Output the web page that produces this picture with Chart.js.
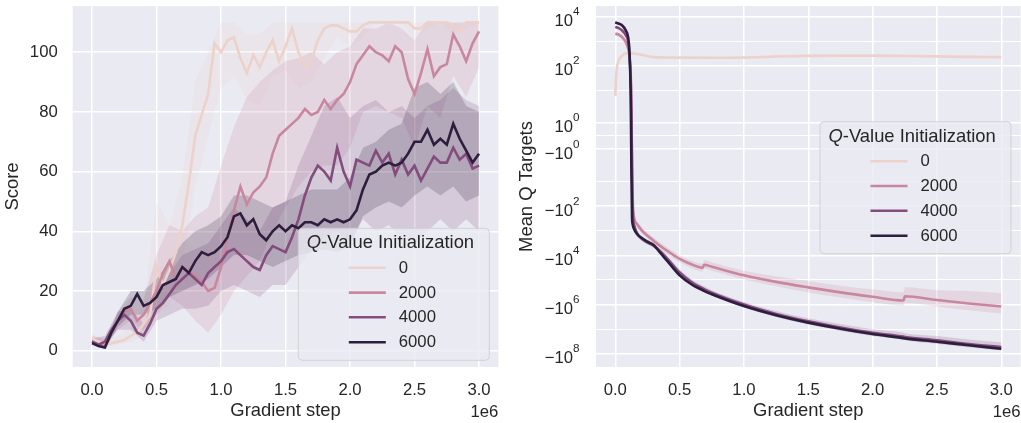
<!DOCTYPE html>
<html>
<head>
<meta charset="utf-8">
<script src="https://cdn.jsdelivr.net/npm/chart.js@4.4.1/dist/chart.umd.min.js"></script>
<style>
html, body { margin: 0; padding: 0; background: #fff; }
#wrap { position: relative; width: 1021px; height: 423px; }
.panel { position: absolute; top: 0; }
</style>
</head>
<body>
<div id="wrap">
  <canvas id="scoreChart" class="panel" width="510" height="423" style="left:0"></canvas>
  <canvas id="qChart" class="panel" width="511" height="423" style="left:510px"></canvas>
</div>
<script>
// ---- data (x in units of 1e6 gradient steps) ----
const LEVELS = ['0', '2000', '4000', '6000'];
const X_TICKS = [0, 0.5, 1, 1.5, 2, 2.5, 3];
const SCORE_TICKS = [0, 20, 40, 60, 80, 100];

const STEPS = [0,0.05,0.1,0.15,0.2,0.25,0.3,0.35,0.4,0.45,0.5,0.55,0.6,0.65,0.7,0.75,0.8,0.85,0.9,0.95,
  1,1.05,1.1,1.15,1.2,1.25,1.3,1.35,1.4,1.45,1.5,1.55,1.6,1.65,1.7,1.75,1.8,1.85,1.9,1.95,
  2,2.05,2.1,2.15,2.2,2.25,2.3,2.35,2.4,2.45,2.5,2.55,2.6,2.65,2.7,2.75,2.8,2.85,2.9,2.95,3];

const score0 = [4,3,2,2.5,3,3.5,5,6,9,12,28,22,27,33,42,56,72,79,86,103,
  100,104,105,98,93,99,95,100,104,97,102,108,100,95,97,104,108,109,109,108,
  107,107,109,110,110,110,110,110,110,110,108,108,110,110,110,110,109,107,110,110,110];
const score2000 = [3,2,1.5,6,10,13,14,10,12,16,20,26,30,24,28,27,25,23,20,21,
  28,38,47,55,49,53,55,58,66,72,74,76,78,81,79,80,84,81,84,86,
  90,96,99,102,100,99,97,102,100,91,86,93,101,92,95,96,106,102,97,103,107];
const score4000 = [3,2,3,7,10,12,10,6,5,9,14,16,19,22,24,26,24,22,26,28,
  30,33,34,32,30,28,27,32,35,34,33,38,44,52,58,62,60,57,68,60,
  55,64,63,62,67,63,66,59,64,59,62,57,61,65,63,63,68,64,66,61,62];
const score6000 = [2.5,1.5,1,6,10,14,15,19,15,16,18,22,23,24,28,26,30,33,32,33,
  35,38,45,46,42,44,39,37,40,42,40,42,41,43,43,42,44,43,44,43,
  44,47,54,59,60,62,63,62,63,66,70,70,74,69,71,69,76,71,67,63,66];

const BAND_STEPS = [0,0.1,0.2,0.3,0.4,0.5,0.6,0.7,0.8,0.9,1,1.1,1.2,1.3,1.4,1.5,1.6,1.7,1.8,1.9,
  2,2.1,2.2,2.3,2.4,2.5,2.6,2.7,2.8,2.9,3];
const scoreLo0 = [2,1,2,3,5,12,15,28,55,72,88,92,84,82,92,94,88,90,98,105,102,105,110,110,110,104,108,110,106,108,110];
const scoreHi0 = [6,3,5,8,15,50,42,58,90,100,110,110,106,106,110,110,110,110,110,110,110,110,110,110,110,110,110,110,110,110,110];
const scoreLo2000 = [2,0.5,7,10,7,12,18,15,10,6,12,20,25,30,40,48,55,60,62,62,68,80,82,80,78,68,82,78,92,85,95];
const scoreHi2000 = [5,4,13,18,17,32,42,40,45,48,62,75,85,90,94,97,98,100,96,100,102,108,108,110,108,104,110,110,110,110,110];
const scoreLo4000 = [2,2,7,7,3,10,12,14,14,15,20,22,20,18,22,22,28,34,38,40,36,44,40,42,38,36,40,44,40,44,40];
const scoreHi4000 = [4,5,13,14,9,20,26,32,34,36,42,48,44,40,48,50,62,72,82,85,78,82,84,80,82,78,82,84,88,84,82];
const scoreLo6000 = [2,0.5,8,12,12,14,18,20,22,24,28,32,32,30,28,30,32,33,34,33,35,45,48,50,48,52,55,52,55,50,52];
const scoreHi6000 = [4,2,13,20,20,24,30,36,40,42,45,52,52,50,48,50,52,54,54,54,58,68,70,74,76,88,90,86,90,82,80];

// mean Q targets
const Q_MAJOR = [1e4, 1e2, 1, -1, -1e2, -1e4, -1e6, -1e8];
const Q_MINOR = [1e3, 10, 0, -10, -1e3, -1e5, -1e7];

const Q0_STEPS = [0,0.005,0.01,0.023,0.05,0.09,0.14,0.2,0.3,0.4,0.5,0.75,1,1.25,1.5,1.75,2,2.25,2.5,2.75,3];
const q0 = [6,26,67,146,248,318,315,280,225,218,215,212,218,238,252,258,258,250,240,230,225];

const Q_STEPS = [0,0.02,0.05,0.08,0.1,0.11,0.12,0.125,0.13,0.135,0.14,0.15,0.17,0.2,0.25,0.3,0.35,0.4,
  0.5,0.6,0.68,0.69,0.75,1,1.25,1.5,1.75,2,2.24,2.25,2.5,2.75,3];
const q2000 = [2000,1900,1500,950,500,250,40,5,-3,-50,-180,-380,-550,-900,-1600,-2600,-4200,-6400,
  -1.4e4,-2.4e4,-3.2e4,-2.4e4,-2.9e4,-6.5e4,-1.2e5,-2.0e5,-3.2e5,-4.8e5,-6.8e5,-4.6e5,-6.5e5,-9e5,-1.2e6];
const q4000 = [3800,3500,2800,1800,950,300,20,1.5,-2.5,-100,-380,-700,-1300,-2000,-3000,-4200,-7000,-1.3e4,
  -5e4,-1.3e5,-2.2e5,-2.35e5,-3.3e5,-1.0e6,-2.4e6,-4.8e6,-8.5e6,-1.4e7,-2.0e7,-2.05e7,-2.8e7,-4e7,-5.3e7];
const q6000 = [5800,5300,4500,2800,1400,350,5,-2.6,-280,-550,-720,-950,-1400,-1900,-2800,-3900,-8000,-1.6e4,
  -6.5e4,-1.6e5,-2.6e5,-2.8e5,-3.8e5,-1.15e6,-2.7e6,-5.4e6,-9.5e6,-1.55e7,-2.3e7,-2.35e7,-3.2e7,-4.5e7,-6.2e7];
const qHi2000 = [2300,2200,1800,1200,650,350,80,12,0,-30,-120,-280,-420,-650,-1200,-1900,-3000,-4600,
  -1.0e4,-1.7e4,-2.2e4,-1.6e4,-1.9e4,-4.2e4,-7e4,-1.1e5,-1.7e5,-2.4e5,-3.2e5,-2.0e5,-2.6e5,-2.8e5,-3.5e5];
const qLo2000 = [1700,1600,1200,700,350,150,10,-1,-8,-90,-260,-500,-720,-1200,-2100,-3500,-5800,-9000,
  -1.9e4,-3.4e4,-4.5e4,-3.4e4,-4.2e4,-9.5e4,-1.8e5,-3.2e5,-5.2e5,-8e5,-1.1e6,-8.5e5,-1.2e6,-1.7e6,-2.3e6];
const qHi4000 = [4200,3900,3100,2000,1100,380,30,2,-1.5,-60,-250,-500,-1000,-1600,-2500,-3500,-5500,-1.0e4,
  -3.8e4,-1.0e5,-1.7e5,-1.8e5,-2.6e5,-7.8e5,-1.8e6,-3.6e6,-6.2e6,-1.0e7,-1.4e7,-1.45e7,-1.9e7,-2.6e7,-3.4e7];
const qLo4000 = [3400,3100,2500,1600,800,220,12,1,-3.5,-140,-500,-900,-1600,-2500,-3600,-5000,-9000,-1.7e4,
  -6.5e4,-1.7e5,-2.8e5,-3.0e5,-4.2e5,-1.3e6,-3.2e6,-6.4e6,-1.15e7,-1.9e7,-2.7e7,-2.8e7,-3.9e7,-5.5e7,-7.2e7];
const qHi6000 = [6300,5800,5000,3200,1700,450,8,-1.8,-200,-420,-580,-800,-1200,-1650,-2400,-3400,-7000,-1.4e4,
  -5.6e4,-1.4e5,-2.3e5,-2.4e5,-3.3e5,-1.0e6,-2.35e6,-4.7e6,-8.2e6,-1.35e7,-2.0e7,-2.05e7,-2.8e7,-3.9e7,-5.3e7];
const qLo6000 = [5300,4800,4000,2400,1100,250,3,-3.5,-380,-700,-880,-1100,-1600,-2200,-3200,-4500,-9200,-1.8e4,
  -7.5e4,-1.85e5,-3.0e5,-3.2e5,-4.4e5,-1.3e6,-3.1e6,-6.2e6,-1.1e7,-1.8e7,-2.65e7,-2.7e7,-3.7e7,-5.2e7,-7.2e7];

// ---- style ----
const FONT = "'Liberation Sans', Arial, sans-serif";
const INK = '#262626';
const COLORS = { '0': '#edd1cb', '2000': '#c8879e', '4000': '#834c7d', '6000': '#2d1e3e' };
const TICK_SIZE = 16.7, LABEL_SIZE = 18.4;

function rgba(hex, a) {
  const n = parseInt(hex.slice(1), 16);
  return `rgba(${n >> 16},${(n >> 8) & 255},${n & 255},${a})`;
}
const pts = (xs, ys) => xs.map((x, i) => ({ x, y: ys[i] }));

// ---- symlog scale (linear near zero, log10 beyond) ----
const LIN = 2.2, LSC = 0.54;
function symD(v) {
  const a = Math.abs(v);
  if (a <= LIN) return v * LSC;
  return Math.sign(v) * (LSC * LIN + Math.log10(a / LIN));
}
function symInv(d) {
  const a = Math.abs(d);
  if (a <= LSC * LIN) return d / LSC;
  return Math.sign(d) * LIN * Math.pow(10, a - LSC * LIN);
}
class SymlogScale extends Chart.Scale {
  determineDataLimits() {
    this.min = this.options.min;
    this.max = this.options.max;
  }
  buildTicks() {
    return Q_MAJOR.concat(Q_MINOR).map(v => ({ value: v, major: Q_MAJOR.includes(v) }));
  }
  getLabelForValue(v) { return String(v); }
  configure() {
    super.configure();
    this._d0 = symD(this.min);
    this._d1 = symD(this.max);
  }
  getPixelForValue(v) {
    return this.getPixelForDecimal((symD(v) - this._d0) / (this._d1 - this._d0));
  }
  getValueForPixel(p) {
    return symInv(this._d0 + this.getDecimalForPixel(p) * (this._d1 - this._d0));
  }
}
SymlogScale.id = 'symlog';
SymlogScale.defaults = {};
Chart.register(SymlogScale);

// ---- plugins ----
const plotBg = {
  id: 'plotBg',
  beforeDraw(chart) {
    const { ctx, chartArea: a } = chart;
    ctx.save();
    ctx.fillStyle = '#eaeaf2';
    ctx.fillRect(a.left, a.top, a.right - a.left, a.bottom - a.top);
    ctx.restore();
  }
};

const offsetText = {
  id: 'offsetText',
  afterDraw(chart) {
    const { ctx, chartArea: a } = chart;
    ctx.save();
    ctx.font = `${TICK_SIZE}px ${FONT}`;
    ctx.fillStyle = INK;
    ctx.textAlign = 'right';
    ctx.textBaseline = 'alphabetic';
    ctx.fillText('1e6', a.right, 417);
    ctx.restore();
  }
};

const qLegend = {
  id: 'qLegend',
  afterDraw(chart, args, opts) {
    const ctx = chart.ctx;
    const x = opts.x, y = opts.y, w = 191, h = 132;
    ctx.save();
    ctx.beginPath();
    ctx.roundRect(x, y, w, h, 4);
    ctx.fillStyle = 'rgba(234,234,242,0.8)';
    ctx.fill();
    ctx.strokeStyle = 'rgba(204,204,204,0.8)';
    ctx.lineWidth = 1;
    ctx.stroke();

    ctx.fillStyle = INK;
    ctx.textBaseline = 'middle';
    ctx.textAlign = 'left';
    ctx.font = `italic ${LABEL_SIZE}px ${FONT}`;
    ctx.fillText('Q', x + 8.5, y + 15);
    const qw = ctx.measureText('Q').width;
    ctx.font = `${LABEL_SIZE}px ${FONT}`;
    ctx.fillText('-Value Initialization', x + 8.5 + qw, y + 15);

    const rows = [39.5, 64.3, 89, 114];
    ctx.font = `${TICK_SIZE}px ${FONT}`;
    LEVELS.forEach((k, i) => {
      const ry = y + rows[i];
      ctx.strokeStyle = COLORS[k];
      ctx.lineWidth = 2.6;
      ctx.beginPath();
      ctx.moveTo(x + 50.5, ry);
      ctx.lineTo(x + 87.5, ry);
      ctx.stroke();
      ctx.fillText(k, x + 100.5, ry + 0.5);
    });
    ctx.restore();
  }
};

const symLabels = {
  id: 'symLabels',
  afterDraw(chart) {
    const { ctx, chartArea: a } = chart;
    const s = chart.scales.y;
    const right = a.left - 16.5;
    ctx.save();
    ctx.fillStyle = INK;
    ctx.textAlign = 'left';
    ctx.textBaseline = 'alphabetic';
    Q_MAJOR.forEach(v => {
      const py = s.getPixelForValue(v);
      const base = v < 0 ? '\u221210' : '10';
      const exp = String(Math.round(Math.log10(Math.abs(v))));
      ctx.font = `11.7px ${FONT}`;
      const ew = ctx.measureText(exp).width;
      ctx.font = `${TICK_SIZE}px ${FONT}`;
      const bw = ctx.measureText(base).width;
      ctx.fillText(base, right - ew - bw, py + 9.5);
      ctx.font = `11.7px ${FONT}`;
      ctx.fillText(exp, right - ew, py - 1.5);
    });
    ctx.restore();
  }
};

// ---- shared axis bits ----
function xAxis() {
  return {
    type: 'linear', min: -0.15, max: 3.15,
    afterBuildTicks: s => { s.ticks = X_TICKS.map(v => ({ value: v })); },
    afterFit: s => { s.height = 56; s.paddingLeft = 0; s.paddingRight = 0; },
    ticks: { callback: v => v.toFixed(1), font: { family: FONT, size: TICK_SIZE }, color: INK, padding: 13, maxRotation: 0 },
    grid: { color: '#ffffff', lineWidth: 1.5, drawTicks: false },
    border: { display: false },
    title: { display: true, text: 'Gradient step', color: INK, font: { family: FONT, size: LABEL_SIZE }, padding: { top: 0, bottom: 1 } }
  };
}

function lineSet(k, xs, ys, order, smooth) {
  return {
    label: k, data: pts(xs, ys), borderColor: COLORS[k], backgroundColor: COLORS[k],
    borderWidth: 2.6, pointRadius: 0, fill: false, order,
    tension: 0, cubicInterpolationMode: smooth ? 'monotone' : 'default'
  };
}
function bandSets(k, xs, hi, lo, order, smooth) {
  const mode = smooth ? 'monotone' : 'default';
  return [
    { label: k + ' hi', data: pts(xs, hi), borderWidth: 0, pointRadius: 0, backgroundColor: rgba(COLORS[k], 0.2), fill: '+1', order, cubicInterpolationMode: mode },
    { label: k + ' lo', data: pts(xs, lo), borderWidth: 0, pointRadius: 0, backgroundColor: 'rgba(0,0,0,0)', fill: false, order, cubicInterpolationMode: mode }
  ];
}

// ---- left: score ----
new Chart(document.getElementById('scoreChart'), {
  type: 'line',
  data: {
    datasets: [
      lineSet('6000', STEPS, score6000, 0),
      lineSet('4000', STEPS, score4000, 1),
      lineSet('2000', STEPS, score2000, 2),
      lineSet('0', STEPS, score0, 3),
      ...bandSets('6000', BAND_STEPS, scoreHi6000, scoreLo6000, 10),
      ...bandSets('4000', BAND_STEPS, scoreHi4000, scoreLo4000, 11),
      ...bandSets('2000', BAND_STEPS, scoreHi2000, scoreLo2000, 12),
      ...bandSets('0', BAND_STEPS, scoreHi0, scoreLo0, 13)
    ]
  },
  options: {
    responsive: false,
    animation: false,
    layout: { padding: { top: 6, right: 11.6, left: 0, bottom: 0 } },
    plugins: {
      legend: { display: false },
      tooltip: { enabled: false },
      qLegend: { x: 298.3, y: 228.3 }
    },
    scales: {
      x: xAxis(),
      y: {
        type: 'linear', min: -5.5, max: 115.5,
        afterBuildTicks: s => { s.ticks = SCORE_TICKS.map(v => ({ value: v })); },
        afterFit: s => { s.width = 72.7; s.paddingTop = 0; s.paddingBottom = 0; },
        ticks: { font: { family: FONT, size: TICK_SIZE }, color: INK, padding: 15 },
        grid: { color: '#ffffff', lineWidth: 1.5, drawTicks: false },
        border: { display: false },
        title: { display: true, text: 'Score', color: INK, font: { family: FONT, size: LABEL_SIZE }, padding: { top: 1.5, bottom: 0 } }
      }
    }
  },
  plugins: [plotBg, offsetText, qLegend]
});

// ---- right: mean Q targets ----
new Chart(document.getElementById('qChart'), {
  type: 'line',
  data: {
    datasets: [
      lineSet('6000', Q_STEPS, q6000, 0, true),
      lineSet('4000', Q_STEPS, q4000, 1, true),
      lineSet('2000', Q_STEPS, q2000, 2, true),
      lineSet('0', Q0_STEPS, q0, 3, true),
      ...bandSets('6000', Q_STEPS, qHi6000, qLo6000, 10, true),
      ...bandSets('4000', Q_STEPS, qHi4000, qLo4000, 11, true),
      ...bandSets('2000', Q_STEPS, qHi2000, qLo2000, 12, true)
    ]
  },
  options: {
    responsive: false,
    animation: false,
    layout: { padding: { top: 6, right: 0.4, left: 0, bottom: 0 } },
    plugins: {
      legend: { display: false },
      tooltip: { enabled: false },
      qLegend: { x: 310, y: 121.7 }
    },
    scales: {
      x: xAxis(),
      y: {
        type: 'symlog', min: -3.41e8, max: 26700,
        afterFit: s => { s.width = 86; s.paddingTop = 0; s.paddingBottom = 0; },
        ticks: { callback: () => '', font: { family: FONT, size: TICK_SIZE }, color: INK, padding: 16 },
        grid: {
          color: '#ffffff', drawTicks: false,
          lineWidth: c => (c.tick && Q_MAJOR.includes(c.tick.value)) ? 1.5 : 1.0
        },
        border: { display: false },
        title: { display: true, text: 'Mean Q Targets', color: INK, font: { family: FONT, size: LABEL_SIZE }, padding: { top: 5.5, bottom: 0 } }
      }
    }
  },
  plugins: [plotBg, offsetText, qLegend, symLabels]
});
</script>
</body>
</html>
